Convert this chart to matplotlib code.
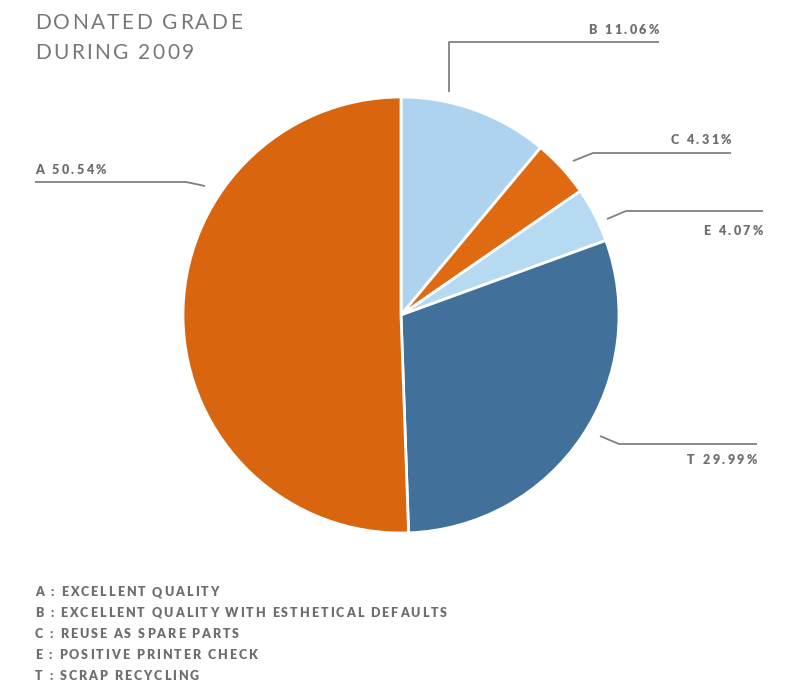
import matplotlib
matplotlib.use("Agg")
from matplotlib import pyplot as plt
from matplotlib.font_manager import FontProperties

# data
codes = ["B", "C", "E", "T", "A"]
shares = [11.06, 4.31, 4.07, 29.99, 50.54]
colors = ["#aed3ef", "#e06a12", "#b6daf2", "#41709b", "#d9650f"]
legend_codes = ["A", "B", "C", "E", "T"]
legend_names = ["EXCELLENT QUALITY", "EXCELLENT QUALITY WITH ESTHETICAL DEFAULTS",
                "REUSE AS SPARE PARTS", "POSITIVE PRINTER CHECK", "SCRAP RECYCLING"]
title_lines = ["DONATED GRADE", "DURING 2009"]

W, H = 789, 683
gray = "#6e6e6e"
plt.rcParams['font.family'] = ['Lato', 'DejaVu Sans']

fig = plt.figure(figsize=(W / 100, H / 100), dpi=100)
ax = fig.add_axes([0, 0, 1, 1])
renderer = fig.canvas.get_renderer()


def py(y):
    # pixel row from top -> data y
    return H - y


def spaced_text(x, y, s, size, weight, color, track, ha="left"):
    # draw text letter by letter with extra tracking (pixels)
    prop = FontProperties(family=['Lato', 'DejaVu Sans'], size=size, weight=weight)
    widths = [renderer.get_text_width_height_descent(ch, prop, ismath=False)[0] for ch in s]
    total = sum(widths) + track * (len(s) - 1)
    cx = x - total if ha == "right" else x
    for ch, w in zip(s, widths):
        if ch != " ":
            ax.text(cx, py(y), ch, ha="left", va="baseline", fontproperties=prop, color=color)
        cx += w + track


ax.pie(shares, colors=colors, startangle=90, counterclock=False,
       center=(401, py(315)), radius=218, frame=True,
       wedgeprops=dict(edgecolor="white", linewidth=2))
ax.set_xlim(0, W)
ax.set_ylim(0, H)
ax.set_aspect("equal")
ax.axis("off")

# leader lines: start, elbow, end, label anchor (x, baseline), align
leaders = {
    "B": [(449, 92), (449, 42), (659, 42), (659, 34), "right"],
    "C": [(573, 161), (593, 153), (731, 153), (731, 144), "right"],
    "E": [(607, 219), (626, 211), (763, 211), (763, 235), "right"],
    "T": [(600, 436), (619, 444), (757, 444), (757, 464), "right"],
    "A": [(205, 186), (186, 182), (35, 182), (35, 174), "left"],
}
for code, share in zip(codes, shares):
    p0, p1, p2, pt, ha = leaders[code]
    ax.plot([p0[0], p1[0], p2[0]], [py(p0[1]), py(p1[1]), py(p2[1])],
            color="#808080", lw=1.3, solid_capstyle="butt")
    spaced_text(pt[0], pt[1], f"{code} {share:.2f}%", 9, "heavy", gray, 2.4, ha=ha)

for i, line in enumerate(title_lines):
    spaced_text(35, 29 + 30 * i, line, 15, "normal", "#777777", 2.35)

for i, (c, name) in enumerate(zip(legend_codes, legend_names)):
    spaced_text(35, 596 + 21 * i, f"{c} : {name}", 9, "heavy", gray, 1.95)

fig.savefig("out.png", dpi=100)
